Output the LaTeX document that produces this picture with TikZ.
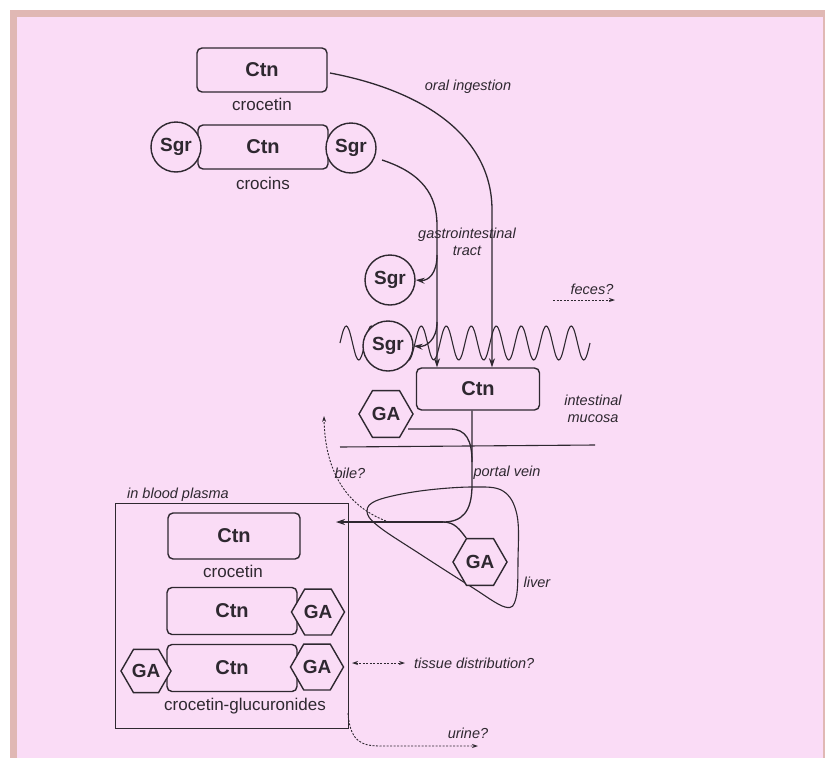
\documentclass[tikz,border=0pt]{standalone}
\usepackage{fontspec}
\setmainfont{Liberation Sans}
\usetikzlibrary{shapes.geometric,arrows.meta,calc}
\definecolor{bgpink}{HTML}{FADCF6}
\definecolor{framec}{HTML}{E0B8B4}
\definecolor{ink}{HTML}{2E2830}
\begin{document}
\begin{tikzpicture}[x=1pt,y=-1pt,
 ctnbox/.style={draw=ink,line width=1.4pt,rounded corners=5pt,fill=bgpink,minimum width=130pt,minimum height=44pt,inner sep=0pt,font=\bfseries\fontsize{20}{22}\selectfont,text=ink},
 sgr/.style={circle,draw=ink,line width=1.4pt,fill=bgpink,minimum size=50pt,inner sep=0pt,font=\bfseries\fontsize{19}{22}\selectfont,text=ink},
 ga/.style={regular polygon,regular polygon sides=6,draw=ink,line width=1.4pt,fill=bgpink,minimum size=54pt,inner sep=0pt,font=\bfseries\fontsize{19}{22}\selectfont,text=ink},
 lbl/.style={font=\fontsize{17}{19}\selectfont,text=ink,inner sep=0pt},
 ital/.style={font=\itshape\fontsize{14.5}{17}\selectfont,text=ink,inner sep=0pt},
 conn/.style={draw=ink,line width=1.3pt},
 thin/.style={draw=ink,line width=1.1pt},
 boxline/.style={draw=ink,line width=0.9pt},
 arr/.style={-{Stealth[length=9pt,width=6pt]}},
 dotconn/.style={draw=ink,line width=0.9pt,dash pattern=on 2pt off 1.5pt},
]
\useasboundingbox (0,0) rectangle (825,758);
\fill[white] (0,0) rectangle (825,758);
\fill[framec] (10,10) rectangle (825,758);
\fill[bgpink] (17,17) rectangle (823,758);

% intestinal wave (behind)
\draw[thin,domain=0:250,samples=200,smooth] plot ({340+\x},{343-17*sin(14.4*\x)});

% membrane line
\coordinate (m1) at (340,447);
\coordinate (m2) at (595,445);
\draw[thin] (m1) -- (m2);

% liver outline
\draw[thin] plot[smooth cycle,tension=0.6] coordinates {(472,487) (420,491) (378,500) (367,511) (378,526) (420,554) (470,586) (505,607) (516,598) (518,560) (517,515) (503,491)};

% top nodes
\node[ctnbox] (c1) at (262,70) {Ctn};
\node[lbl] (c1l) at (262,104) {crocetin};
\node[ctnbox] (c2) at (263,147) {Ctn};
\node[sgr] (s1) at (176,147) {Sgr};
\node[sgr] (s2) at (351,148) {Sgr};
\node[lbl] (c2l) at (263,183) {crocins};

% freed sugars
\node[sgr] (sg1) at (390,280) {Sgr};
\node[sgr] (sg2) at (388,346) {Sgr};

% intestinal mucosa
\node[ctnbox,minimum width=123pt,minimum height=42pt] (ci) at (478,389) {Ctn};
\node[ga] (ga1) at (386,414) {GA};
\node[ga] (ga2) at (480,562) {GA};

% labels
\node[ital] (oral) at (468,87) {oral ingestion};
\node[ital,align=center] (gi) at (467,242) {gastrointestinal\\tract};
\node[ital] (fe) at (592,289) {feces?};
\node[ital,align=center] (im) at (593,409) {intestinal\\mucosa};
\node[ital] (bile) at (350,473) {bile?};
\node[ital] (pv) at (507,473) {portal vein};
\node[ital] (liv) at (537,582) {liver};

% blood plasma box
\coordinate (b1) at (115,503);
\coordinate (b2) at (348,728);
\draw[boxline] (b1) rectangle (b2);
\node[ital,anchor=west] (bp) at (127,495) {in blood plasma};
\node[ctnbox,minimum width=132pt,minimum height=46pt] (pc) at (234,536) {Ctn};
\node[lbl] (pcl) at (233,571) {crocetin};
\node[ctnbox,minimum height=47pt] (g1) at (232,611) {Ctn};
\node[ga,minimum size=53pt] (g1r) at (318,612) {GA};
\node[ctnbox,minimum height=47pt] (g2) at (232,668) {Ctn};
\node[ga,minimum size=53pt] (g2r) at (317,667) {GA};
\node[ga,minimum size=50pt] (g2l) at (146,671) {GA};
\node[lbl] (gl) at (245,706) {crocetin-glucuronides};
\node[ital,anchor=west] (td) at (414,663) {tissue distribution?};
\node[ital] (ur) at (468,733) {urine?};

% connectors
\coordinate (o1) at (330,73);
\coordinate (o2) at (492,210);
\draw[conn,arr] (o1) .. controls (430,92) and (492,140) .. (o2) -- (o2 |- ci.north);

\coordinate (k1) at (382,160);
\coordinate (k2) at (437,225);
\draw[conn,arr] (k1) .. controls (422,173) and (437,195) .. (k2) -- (k2 |- ci.north);

\coordinate (br1) at (437,255);
\draw[conn,arr] (br1) .. controls (437,274) and (428,281) .. (sg1.east);
\coordinate (br2) at (437,322);
\draw[conn,arr] (br2) .. controls (437,340) and (426,347) .. (sg2.east);

\coordinate (fa) at (553,300);
\coordinate (fb) at (615,300);
\draw[dotconn,-{Stealth[length=6pt,width=4pt]}] (fa) -- (fb);

% portal vein
\coordinate (pv1) at (472,485);
\coordinate (j1) at (443,522);
\coordinate (pt) at (336,522);
\draw[conn] (ci.south -| pv1) -- (pv1) .. controls (472,512) and (462,522) .. (j1);
\draw[conn,arr] (j1) -- (pt);
\draw[conn] (j1) .. controls (455,522) and (460,530) .. (ga2.120);

% GA from intestine into portal vein
\coordinate (gq1) at (408,429);
\coordinate (gq2) at (450,429);
\draw[conn] (gq1) -- (gq2) .. controls (466,429) and (472,440) .. (472,462);

% bile
\coordinate (bl1) at (386,521);
\coordinate (bl2) at (324,416);
\draw[dotconn,-{Stealth[length=6pt,width=4pt]}] (bl1) .. controls (345,505) and (325,470) .. (bl2);

% tissue distribution
\coordinate (t1) at (352,663);
\coordinate (t2) at (405,663);
\draw[dotconn,{Stealth[length=6pt,width=4pt]}-{Stealth[length=6pt,width=4pt]}] (t1) -- (t2);

% urine
\coordinate (u1) at (348,713);
\coordinate (u2) at (478,746);
\draw[dotconn,-{Stealth[length=6pt,width=4pt]}] (u1) .. controls (350,740) and (360,746) .. (380,746) -- (u2);
\end{tikzpicture}
\end{document}
